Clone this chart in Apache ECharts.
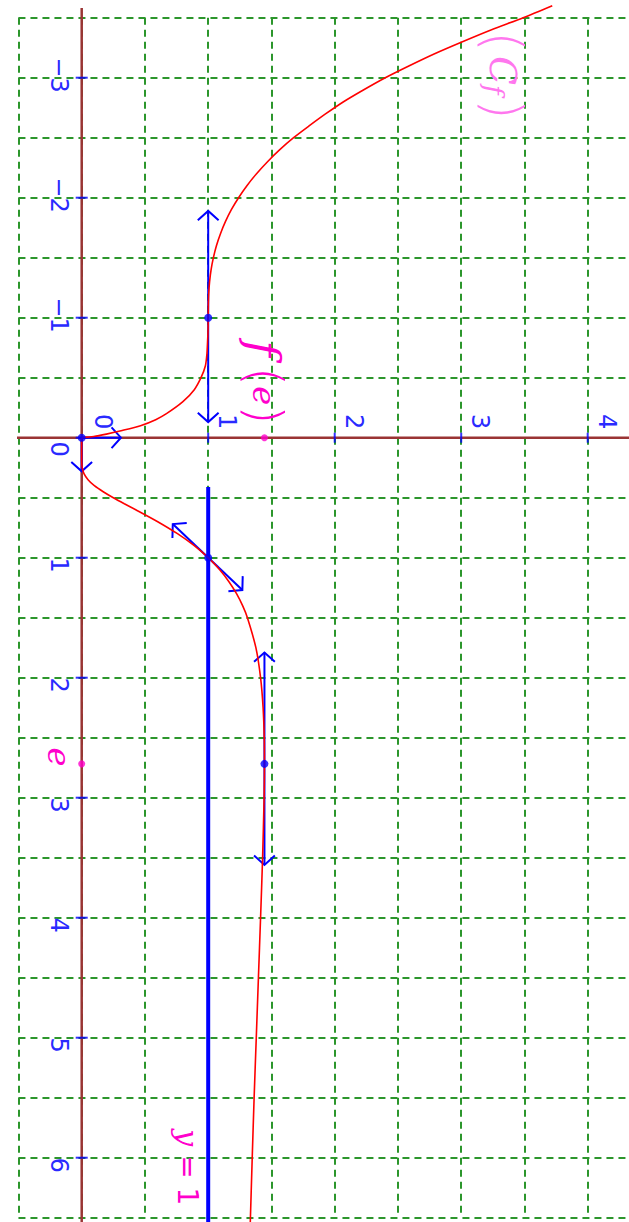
<!DOCTYPE html>
<html><head><meta charset="utf-8">
<script src="https://cdn.jsdelivr.net/npm/echarts@6/dist/echarts.min.js"></script>
<style>html,body{margin:0;padding:0;background:#fff;overflow:hidden}
#wrap{width:629px;height:1222px;overflow:hidden;position:relative}
#c{width:660px;height:1222px}</style>
</head><body><div id="wrap"><div id="c"></div></div>
<script>
// The figure is rotated 90° clockwise: math x runs down the page, math y = f(x) runs to the right.
// Points are given as [x, f(x)].
const xTicks = [-3, -2, -1, 0, 1, 2, 3, 4, 5, 6];
const xTickLabels = ['−3', '−2', '−1', '0', '1', '2', '3', '4', '5', '6'];
const yTicks = [0, 1, 2, 3, 4];
const yTickLabels = ['0', '1', '2', '3', '4'];

const curveLeft = [
  [-3.6, 3.72], [-3.5, 3.49], [-3.4, 3.24], [-3.3, 3.01], [-3.2, 2.79], [-3.1, 2.59], [-3.0, 2.40],
  [-2.9, 2.23], [-2.8, 2.07], [-2.7, 1.93], [-2.6, 1.80], [-2.5, 1.675], [-2.4, 1.566], [-2.3, 1.469],
  [-2.2, 1.382], [-2.1, 1.306], [-2.0, 1.24], [-1.9, 1.183], [-1.8, 1.136], [-1.7, 1.097], [-1.6, 1.065],
  [-1.5, 1.041], [-1.4, 1.023], [-1.3, 1.011], [-1.2, 1.004], [-1.1, 1.001], [-1.0, 1.0], [-0.9, 0.999],
  [-0.8, 0.995], [-0.7, 0.99], [-0.6, 0.978], [-0.5, 0.943], [-0.4, 0.89], [-0.3, 0.80], [-0.2, 0.67],
  [-0.15, 0.585], [-0.1, 0.465], [-0.06, 0.32], [-0.03, 0.195], [-0.01, 0.095], [0, 0]
];
const curveRight = [
  [0, 0], [0.1, 0], [0.2, 0.0003], [0.25, 0.004], [0.3, 0.018], [0.35, 0.05], [0.4, 0.10],
  [0.45, 0.17], [0.5, 0.25], [0.55, 0.337], [0.6, 0.427], [0.7, 0.601], [0.8, 0.757], [0.9, 0.890], [1.0, 1.0],
  [1.1, 1.091], [1.2, 1.164], [1.3, 1.224], [1.4, 1.272], [1.5, 1.310], [1.75, 1.377], [2.0, 1.414],
  [2.25, 1.434], [2.5, 1.443], [2.718, 1.4447], [3.0, 1.442], [3.5, 1.430], [4.0, 1.414], [4.5, 1.397],
  [5.0, 1.380], [5.5, 1.363], [6.0, 1.348], [6.6, 1.331]
];

const tangentAtMinus1 = [[-1.89, 1], [-0.13, 1]];
const tangentAt1 = [[0.72, 0.72], [1.27, 1.27]];
const tangentAtE = [[1.79, 1.4447], [3.56, 1.4447]];
const halfTangentLeft0 = [[0, 0], [0, 0.31]];
const halfTangentRight0 = [[0, 0], [0.28, 0]];
const asymptote = [[0.41, 1], [6.6, 1]];
const bluePoints = [[0, 0], [-1, 1], [1, 1], [2.718, 1.4447]];
const pinkPoints = [[2.718, 0], [0, 1.4447]];

const BLUE = '#0000ff', LBLUE = '#2a2aff', RED = '#ff0000', BROWN = '#9a3434', GREEN = '#2c962c', PINK = '#ff00cc';
const C = p => [p[1], p[0]]; // [x, f] -> chart [horizontal, vertical]

function arrowHead(tip, from) {
  const dx = tip[0] - from[0], dy = tip[1] - from[1];
  const len = Math.hypot(dx, dy) || 1;
  const ux = -dx / len, uy = -dy / len, L = 14, t = 48 * Math.PI / 180;
  const c = Math.cos(t), s = Math.sin(t);
  const r1 = [ux * c - uy * s, ux * s + uy * c], r2 = [ux * c + uy * s, -ux * s + uy * c];
  return { type: 'polyline', shape: { points: [[tip[0] + L * r1[0], tip[1] + L * r1[1]], tip, [tip[0] + L * r2[0], tip[1] + L * r2[1]]] },
    style: { stroke: BLUE, lineWidth: 2, fill: null } };
}

const segs = [
  [tangentAtMinus1, 1, 1], [tangentAt1, 1, 1], [tangentAtE, 1, 1],
  [halfTangentLeft0, 0, 1], [halfTangentRight0, 0, 1]
].map(([s, a, b]) => [s[0][1], s[0][0], s[1][1], s[1][0], a, b]);

const annotations = [
  { at: [-3.02, 3.33], rich: '{p|(}{c|C}{s|f}{p|)}', color: '#ff77ee' },
  { at: [-0.46, 1.44], rich: '{f|f}{q|(}{e|e}{q|)}', color: PINK },
  { at: [2.66, -0.18], rich: '{e|e}', color: PINK },
  { at: [6.08, 0.84], rich: '{y|y}{n| = 1}', color: PINK }
];
const richStyles = color => ({
  p: { fontSize: 54, fontFamily: 'DejaVu Sans', fontWeight: 200, fill: color },
  c: { fontSize: 38, fontFamily: 'DejaVu Serif', fontStyle: 'italic', fill: color, padding: [0, 0, 0, 4] },
  s: { fontSize: 26, fontFamily: 'DejaVu Serif', fontStyle: 'italic', fill: color, padding: [18, 4, 0, 0] },
  f: { fontSize: 44, fontFamily: 'DejaVu Serif', fontStyle: 'italic', fill: color, padding: [0, 10, 0, 0] },
  q: { fontSize: 50, fontFamily: 'DejaVu Sans', fontWeight: 200, fill: color },
  e: { fontSize: 32, fontFamily: 'DejaVu Serif', fontStyle: 'italic', fill: color },
  y: { fontSize: 30, fontFamily: 'DejaVu Serif', fontStyle: 'italic', fill: color },
  n: { fontSize: 28, fontFamily: 'DejaVu Sans', fill: color }
});

const ROT = -Math.PI / 2;
const chart = echarts.init(document.getElementById('c'), null, { renderer: 'svg', width: 660, height: 1222 });

const hiddenAxis = {
  axisLine: { show: false }, axisTick: { show: false }, axisLabel: { show: false },
  splitLine: { show: true, lineStyle: { color: GREEN, width: 2, type: [7, 5] } }
};

chart.setOption({
  animation: false,
  backgroundColor: '#ffffff',
  grid: { left: 18.45, right: 9.05, top: 17.7, bottom: 4.3 },
  xAxis: Object.assign({ type: 'value', min: -0.5, max: 4.5, interval: 0.5 }, hiddenAxis),
  yAxis: Object.assign({ type: 'value', inverse: true, min: -3.5, max: 6.5, interval: 0.5 }, hiddenAxis),
  series: [
    { type: 'line', data: [[0, -3.58], [0, 6.7]], symbol: 'none', clip: false, silent: true,
      lineStyle: { color: BROWN, width: 2.5 }, z: 2 },
    { type: 'line', data: [[-0.56, 0], [4.6, 0]], symbol: 'none', clip: false, silent: true,
      lineStyle: { color: BROWN, width: 2.5 }, z: 2 },
    { type: 'scatter', data: xTicks.map(v => [0, v]), symbol: 'rect', symbolSize: [12, 2],
      itemStyle: { color: BLUE }, z: 3 },
    { type: 'scatter', data: yTicks.filter(v => v !== 0).map(v => [v, 0]), symbol: 'rect', symbolSize: [2, 10],
      itemStyle: { color: BLUE }, z: 3 },
    { type: 'line', data: asymptote.map(C), symbol: 'none', clip: false,
      lineStyle: { color: BLUE, width: 4 }, z: 4 },
    { type: 'custom', data: segs, clip: false, z: 5,
      renderItem: (params, api) => {
        const a = api.coord([api.value(0), api.value(1)]);
        const b = api.coord([api.value(2), api.value(3)]);
        const ch = [{ type: 'line', shape: { x1: a[0], y1: a[1], x2: b[0], y2: b[1] }, style: { stroke: BLUE, lineWidth: 2 } }];
        if (api.value(4)) ch.push(arrowHead(a, b));
        if (api.value(5)) ch.push(arrowHead(b, a));
        return { type: 'group', children: ch };
      } },
    { type: 'line', data: curveLeft.map(C), symbol: 'none', clip: false, smooth: 0.25,
      lineStyle: { color: RED, width: 1.6 }, z: 6 },
    { type: 'line', data: curveRight.map(C), symbol: 'none', clip: false, smooth: 0.25,
      lineStyle: { color: RED, width: 1.6 }, z: 6 },
    { type: 'scatter', data: bluePoints.map(C), symbolSize: 8, itemStyle: { color: BLUE }, z: 7 },
    { type: 'scatter', data: pinkPoints.map(C), symbolSize: 7, itemStyle: { color: PINK }, z: 7 },
    // x tick labels
    { type: 'custom', data: xTicks.map(v => [0, v]), clip: false, z: 8,
      renderItem: (params, api) => {
        const v = api.value(1), p = api.coord([0, v]);
        return { type: 'text', x: p[0] - 23, y: p[1] + (v === 0 ? 19 : 15), rotation: ROT,
          style: { text: xTickLabels[params.dataIndex], fill: LBLUE, fontSize: 24, fontFamily: 'DejaVu Sans',
            align: 'right', verticalAlign: 'middle' } };
      } },
    // y tick labels
    { type: 'custom', data: yTicks.map(v => [v, 0]), clip: false, z: 8,
      renderItem: (params, api) => {
        const v = api.value(0), p = api.coord([v, 0]);
        return { type: 'text', x: p[0] + (v === 0 ? 21 : 19), y: p[1] - 16, rotation: ROT,
          style: { text: yTickLabels[params.dataIndex], fill: LBLUE, fontSize: 24, fontFamily: 'DejaVu Sans',
            align: 'center', verticalAlign: 'middle' } };
      } },
    // pink annotations
    { type: 'custom', data: annotations.map(a => C(a.at)), clip: false, z: 8,
      renderItem: (params, api) => {
        const a = annotations[params.dataIndex];
        const p = api.coord([api.value(0), api.value(1)]);
        return { type: 'text', x: p[0], y: p[1], rotation: ROT,
          style: { text: a.rich, rich: richStyles(a.color), fill: a.color, align: 'center', verticalAlign: 'middle' } };
      } }
  ]
});
</script></body></html>
